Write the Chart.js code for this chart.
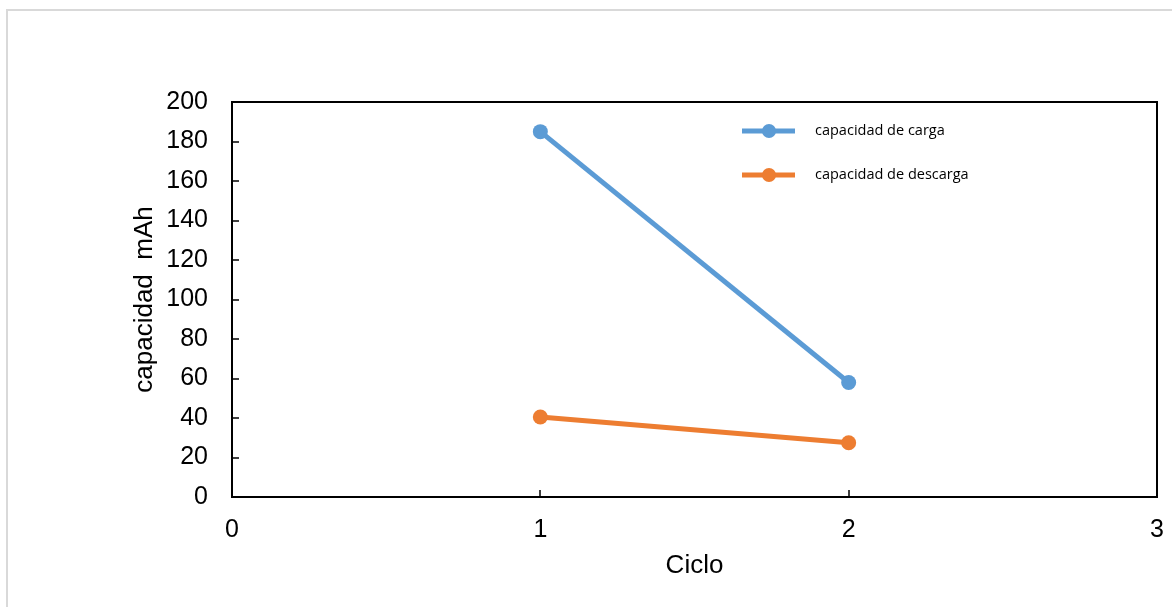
<!DOCTYPE html>
<html>
<head>
<meta charset="utf-8">
<script src="https://cdn.jsdelivr.net/npm/chart.js@4"></script>
<style>
  html, body { margin: 0; padding: 0; background: #fff; overflow: hidden; }
  #marco { position: absolute; left: 6px; top: 9px; width: 1200px; height: 700px; border: 2px solid #d9d9d9; }
  #wrap { position: absolute; left: 0; top: 0; width: 1172px; height: 607px; }
</style>
</head>
<body>
<div id="marco"></div>
<div id="wrap"><canvas id="capChart"></canvas></div>
<script>
// datos
const ciclos = [1, 2];
const capacidadCarga = [185, 58];
const capacidadDescarga = [40.5, 27.5];
const yTicks = [0, 20, 40, 60, 80, 100, 120, 140, 160, 180, 200];
const xTicks = [0, 1, 2, 3];

const azul = '#5B9BD5';
const naranja = '#ED7D31';

// marco del area de trazado + marcas hacia dentro
const marcoPlugin = {
    id: 'marco',
    afterDraw(chart) {
        const ctx = chart.ctx;
        const a = chart.chartArea;
        const x = chart.scales.x, y = chart.scales.y;
        ctx.save();
        ctx.strokeStyle = '#000';
        ctx.lineWidth = 2;
        ctx.strokeRect(a.left, a.top, a.right - a.left, a.bottom - a.top);
        ctx.beginPath();
        yTicks.forEach(v => {
            const py = Math.round(y.getPixelForValue(v));
            ctx.moveTo(a.left, py);
            ctx.lineTo(a.left + 7, py);
        });
        xTicks.forEach(v => {
            const px = Math.round(x.getPixelForValue(v));
            ctx.moveTo(px, a.bottom);
            ctx.lineTo(px, a.bottom - 7);
        });
        ctx.lineWidth = 1.5;
        ctx.stroke();
        ctx.restore();
    }
};

// leyenda dentro del area de trazado
const leyendaPlugin = {
    id: 'leyenda',
    afterDraw(chart) {
        const ctx = chart.ctx;
        ctx.save();
        ctx.font = '14.5px "Open Sans", "Noto Sans", sans-serif';
        ctx.textBaseline = 'middle';
        chart.data.datasets.forEach((ds, i) => {
            const yy = 131 + i * 44;
            ctx.strokeStyle = ds.borderColor;
            ctx.lineWidth = 5;
            ctx.beginPath();
            ctx.moveTo(742, yy);
            ctx.lineTo(795, yy);
            ctx.stroke();
            ctx.fillStyle = ds.borderColor;
            ctx.beginPath();
            ctx.arc(769, yy, 7, 0, Math.PI * 2);
            ctx.fill();
            ctx.fillStyle = '#000';
            ctx.fillText(ds.label, 815, yy);
        });
        ctx.restore();
    }
};

const tickFont = { family: '"Liberation Sans", Arial, sans-serif', size: 25 };
const titleFont = { family: '"Liberation Sans", Arial, sans-serif', size: 26 };

new Chart(document.getElementById('capChart').getContext('2d'), {
    type: 'line',
    data: {
        datasets: [{
            label: 'capacidad de carga',
            data: ciclos.map((c, i) => ({ x: c, y: capacidadCarga[i] })),
            borderColor: azul,
            backgroundColor: azul,
            borderWidth: 5,
            pointBorderWidth: 0,
            pointRadius: 7.5,
            pointHoverRadius: 7.5
        }, {
            label: 'capacidad de descarga',
            data: ciclos.map((c, i) => ({ x: c, y: capacidadDescarga[i] })),
            borderColor: naranja,
            backgroundColor: naranja,
            borderWidth: 5,
            pointBorderWidth: 0,
            pointRadius: 7.5,
            pointHoverRadius: 7.5
        }]
    },
    options: {
        responsive: true,
        maintainAspectRatio: false,
        animation: false,
        layout: { padding: { top: 102, right: 15, left: 0, bottom: 0 } },
        plugins: { legend: { display: false }, tooltip: { enabled: false } },
        scales: {
            x: {
                type: 'linear',
                min: 0,
                max: 3,
                afterBuildTicks: s => { s.ticks = xTicks.map(v => ({ value: v })); },
                afterFit: s => { s.height = 110; s.paddingLeft = 0; s.paddingRight = 0; },
                grid: { display: false, drawTicks: false },
                border: { display: false },
                ticks: { color: '#000', font: tickFont, padding: 18, maxRotation: 0 },
                title: { display: true, text: 'Ciclo', color: '#000', font: titleFont, padding: { top: 0, bottom: 26 } }
            },
            y: {
                min: 0,
                max: 200,
                afterBuildTicks: s => { s.ticks = yTicks.map(v => ({ value: v })); },
                afterFit: s => { s.width = 232; },
                grid: { display: false, drawTicks: false },
                border: { display: false },
                ticks: { color: '#000', font: tickFont, padding: 24 },
                title: { display: true, text: 'capacidad  mAh', color: '#000', font: titleFont, padding: { top: 129, bottom: 0 } }
            }
        }
    },
    plugins: [marcoPlugin, leyendaPlugin]
});
</script>
</body>
</html>
